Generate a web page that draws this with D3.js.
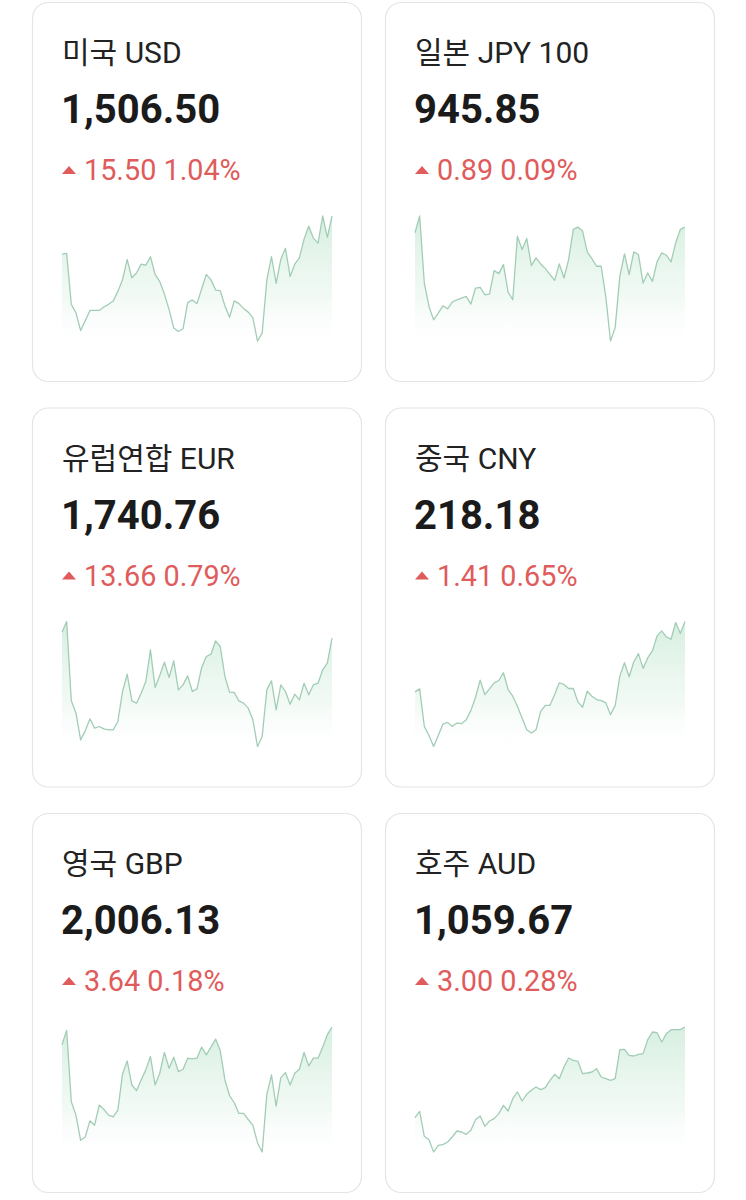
<!DOCTYPE html>
<html>
<head>
<meta charset="utf-8">
<script src="https://cdn.jsdelivr.net/npm/d3@7"></script>
<style>
  html, body { margin: 0; padding: 0; background: #ffffff; }
  svg { display: block; }
  text { font-family: Roboto, "Noto Sans CJK KR", "Noto Sans", sans-serif; }
</style>
</head>
<body>
<svg id="chart" width="746" height="1200"></svg>
<script>
// ---- data ----
const currencyNames = ["미국 USD", "일본 JPY 100", "유럽연합 EUR", "중국 CNY", "영국 GBP", "호주 AUD"];
const rates = ["1,506.50", "945.85", "1,740.76", "218.18", "2,006.13", "1,059.67"];
const changes = ["15.50", "0.89", "13.66", "1.41", "3.64", "3.00"];
const changePercents = ["1.04%", "0.09%", "0.79%", "0.65%", "0.18%", "0.28%"];

// relative levels read from each sparkline (higher = higher rate)
const usdTrend = [268,270,120,95,43,72,102,102,102,112,120,130,158,192,252,198,212,238,235,260,208,187,150,105,50,40,48,125,133,122,165,208,192,162,160,115,82,130,122,108,97,80,12,35,192,260,182,252,285,202,238,257,312,350,315,300,380,317,380];
const jpyTrend = [335,385,185,115,75,95,117,108,128,135,140,145,122,170,172,150,152,222,213,240,158,135,325,285,318,237,260,242,228,210,193,242,200,255,345,352,340,278,258,235,235,142,12,52,205,272,210,278,270,185,215,190,248,275,268,248,305,345,352];
const eurTrend = [358,390,152,115,35,62,98,70,75,68,65,65,90,180,232,152,145,175,210,305,192,228,268,222,272,185,200,227,180,188,252,285,292,332,315,225,178,177,152,145,130,95,15,45,185,212,125,200,180,142,172,155,205,170,200,205,245,265,340];
const cnyTrend = [178,187,75,48,15,48,82,87,75,85,83,95,122,162,213,170,187,205,212,235,185,165,135,100,65,55,65,120,138,138,170,205,200,188,188,148,132,180,165,155,152,145,110,137,225,265,223,268,292,248,280,300,345,360,342,335,385,352,388];
const gbpTrend = [335,378,165,125,50,60,108,95,155,142,125,120,140,248,287,215,198,230,260,300,215,250,312,265,298,255,262,295,293,295,328,305,328,352,317,230,183,162,130,130,112,95,42,15,187,245,152,237,252,215,250,262,312,272,295,295,328,365,388];
const audTrend = [118,137,62,52,15,35,37,45,60,78,75,68,80,112,123,92,108,115,130,155,138,175,195,168,188,200,210,202,208,230,248,235,270,297,290,287,250,252,255,265,240,235,230,235,322,323,305,303,308,310,352,375,373,345,370,382,382,382,390];
const trends = [usdTrend, jpyTrend, eurTrend, cnyTrend, gbpTrend, audTrend];

// ---- layout ----
const svg = d3.select("#chart");
const cardW = 330, cardH = 380;
const colX = [32, 385];
const rowY = [2, 407.5, 813];
const RED = "#e05b5b";

const defs = svg.append("defs");
const grad = defs.append("linearGradient")
  .attr("id", "areaGrad").attr("x1", 0).attr("y1", 0).attr("x2", 0).attr("y2", 1);
grad.append("stop").attr("offset", "0%").attr("stop-color", "#c4e8d2").attr("stop-opacity", 0.7);
grad.append("stop").attr("offset", "60%").attr("stop-color", "#e2f3e9").attr("stop-opacity", 0.45);
grad.append("stop").attr("offset", "100%").attr("stop-color", "#ffffff").attr("stop-opacity", 0);

currencyNames.forEach((name, i) => {
  const cx = colX[i % 2], cy = rowY[Math.floor(i / 2)];
  const g = svg.append("g").attr("transform", `translate(${cx},${cy})`);

  g.append("rect")
    .attr("x", 0.5).attr("y", 0.5)
    .attr("width", cardW - 1).attr("height", cardH - 1)
    .attr("rx", 16).attr("ry", 16)
    .attr("fill", "#ffffff")
    .attr("stroke", "#e4e4e4").attr("stroke-width", 1.2);

  g.append("text")
    .attr("x", 30).attr("y", 61)
    .attr("font-size", 30).attr("fill", "#222222")
    .text(name);

  g.append("text")
    .attr("x", 29).attr("y", 121)
    .attr("font-size", 40).attr("font-weight", 700).attr("fill", "#1b1b1b")
    .text(rates[i]);

  // up triangle
  g.append("path")
    .attr("d", "M30,172 L37,164 L44,172 Z")
    .attr("fill", RED);

  g.append("text")
    .attr("x", 52).attr("y", 178)
    .attr("font-size", 28.8).attr("fill", RED)
    .text(changes[i] + " " + changePercents[i]);

  // sparkline
  const data = trends[i];
  const x = d3.scaleLinear().domain([0, data.length - 1]).range([30, 300]);
  const y = d3.scaleLinear().domain(d3.extent(data)).range([339, 214]);

  const area = d3.area()
    .x((d, j) => x(j))
    .y0(350)
    .y1(d => y(d));
  const line = d3.line()
    .x((d, j) => x(j))
    .y(d => y(d));

  g.append("path")
    .datum(data)
    .attr("d", area)
    .attr("fill", "url(#areaGrad)");

  g.append("path")
    .datum(data)
    .attr("d", line)
    .attr("fill", "none")
    .attr("stroke", "#a2cdb5")
    .attr("stroke-width", 1.3)
    .attr("stroke-linejoin", "round");
});
</script>
</body>
</html>
